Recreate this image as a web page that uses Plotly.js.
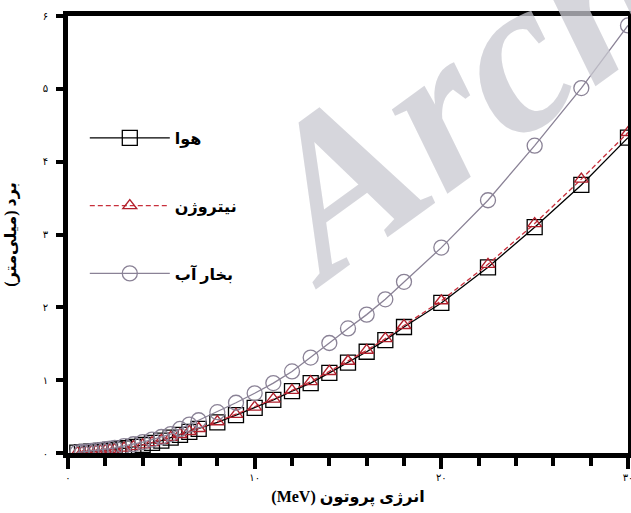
<!DOCTYPE html>
<html>
<head>
<meta charset="utf-8">
<script src="https://cdn.plot.ly/plotly-3.0.1.min.js"></script>
<style>html,body{margin:0;padding:0;background:#fff;}#chart{width:631px;height:513px;}</style>
</head>
<body>
<div id="chart"></div>
<script>
// Proton energy (MeV)
const energy = [0.5, 0.75, 1, 1.25, 1.5, 1.75, 2, 2.25, 2.5, 3, 3.5, 4, 4.5, 5, 5.5, 6, 6.5, 7, 8, 9, 10, 11, 12, 13, 14, 15, 16, 17, 18, 20, 22.5, 25, 27.5, 30];
// Range (mm)
const rangeAir = [0.005, 0.01, 0.015, 0.02, 0.025, 0.03, 0.037, 0.043, 0.05, 0.065, 0.085, 0.11, 0.14, 0.17, 0.21, 0.25, 0.29, 0.33, 0.42, 0.52, 0.62, 0.73, 0.85, 0.96, 1.10, 1.24, 1.39, 1.55, 1.73, 2.06, 2.55, 3.10, 3.68, 4.33];
const rangeN2 = [0.005, 0.01, 0.015, 0.02, 0.026, 0.031, 0.038, 0.044, 0.051, 0.067, 0.087, 0.112, 0.143, 0.174, 0.214, 0.255, 0.296, 0.337, 0.43, 0.53, 0.63, 0.74, 0.86, 0.98, 1.12, 1.26, 1.41, 1.57, 1.75, 2.09, 2.59, 3.15, 3.76, 4.40];
const rangeVapor = [0.008, 0.014, 0.02, 0.028, 0.035, 0.043, 0.052, 0.06, 0.07, 0.095, 0.12, 0.15, 0.185, 0.22, 0.26, 0.33, 0.39, 0.45, 0.56, 0.69, 0.82, 0.96, 1.12, 1.31, 1.51, 1.71, 1.90, 2.11, 2.35, 2.82, 3.47, 4.22, 5.01, 5.87];

const names = ['هوا', 'نیتروژن', 'بخار آب'];
const xTickVals = [0, 10, 20, 30];
const xTickText = ['۰', '۱۰', '۲۰', '۳۰'];
const yTickVals = [0, 1, 2, 3, 4, 5, 6];
const yTickText = ['۰', '۱', '۲', '۳', '۴', '۵', '۶'];

const arFont = 'Liberation Serif, DejaVu Sans, serif';

const traces = [
  {x: energy, y: rangeAir, name: names[0], legendgroup: 'a', mode: 'lines+markers', type: 'scatter',
   line: {color: '#000000', width: 1.3},
   marker: {symbol: 'square-open', size: 15, color: '#000000', line: {width: 1.3}}},
  {x: energy, y: rangeN2, name: names[1], legendgroup: 'b', mode: 'lines+markers', type: 'scatter',
   line: {color: '#c8303c', width: 1.3, dash: '5px,3px'},
   marker: {symbol: 'triangle-up-open', size: 12, color: '#b0202c', line: {width: 1.4}}},
  {x: energy, y: rangeVapor, name: names[2], legendgroup: 'c', mode: 'lines+markers', type: 'scatter',
   line: {color: '#8a8296', width: 1.3},
   marker: {symbol: 'circle-open', size: 15, color: '#8a8296', line: {width: 1.3}}}
];

const layout = {
  width: 631, height: 513,
  margin: {l: 68, r: 3, t: 16, b: 60},
  paper_bgcolor: '#ffffff', plot_bgcolor: '#ffffff',
  showlegend: true,
  legend: {x: 0.03, y: 0.76, xanchor: 'left', yanchor: 'top', bgcolor: 'rgba(0,0,0,0)',
           traceorder: 'grouped', tracegroupgap: 44, itemwidth: 80,
           font: {family: arFont, size: 16, color: '#000', weight: 'bold'}},
  xaxis: {range: [0, 30], tickvals: xTickVals, ticktext: xTickText,
          ticks: 'outside', ticklen: 11, tickwidth: 4, tickcolor: '#000',
          ticklabeloverflow: 'allow',
          minor: {dtick: 2, tick0: 0, ticks: 'outside', ticklen: 8, tickwidth: 4, tickcolor: '#000', showgrid: false},
          showline: true, linewidth: 5, linecolor: '#000', mirror: true,
          showgrid: false, zeroline: false,
          tickfont: {family: 'DejaVu Sans', size: 10, color: '#000'},
          title: {text: '\u202Bانرژی پروتون (MeV)\u202C', standoff: 10,
                  font: {family: arFont, size: 16, color: '#000', weight: 'bold'}}},
  yaxis: {range: [0, 6], tickvals: yTickVals, ticktext: yTickText,
          ticks: 'outside', ticklen: 7, tickwidth: 4, tickcolor: '#000',
          ticklabelstandoff: 6, ticklabeloverflow: 'allow',
          showline: true, linewidth: 5, linecolor: '#000', mirror: true,
          showgrid: false, zeroline: false,
          tickfont: {family: 'DejaVu Sans', size: 10, color: '#000'},
          title: {text: '\u202Bبرد (میلی‌متر)\u202C', standoff: 24,
                  font: {family: arFont, size: 16, color: '#000', weight: 'bold'}}},
  annotations: [
    {text: '<b><i>Archive</i></b>', xref: 'paper', yref: 'paper', x: 0.885, y: 0.995,
     xanchor: 'center', yanchor: 'middle',
     showarrow: false, textangle: -36,
     font: {family: 'Liberation Serif', size: 220, color: 'rgba(200,200,208,0.75)'}}
  ]
};

Plotly.newPlot('chart', traces, layout, {displayModeBar: false, staticPlot: true});
</script>
</body>
</html>
